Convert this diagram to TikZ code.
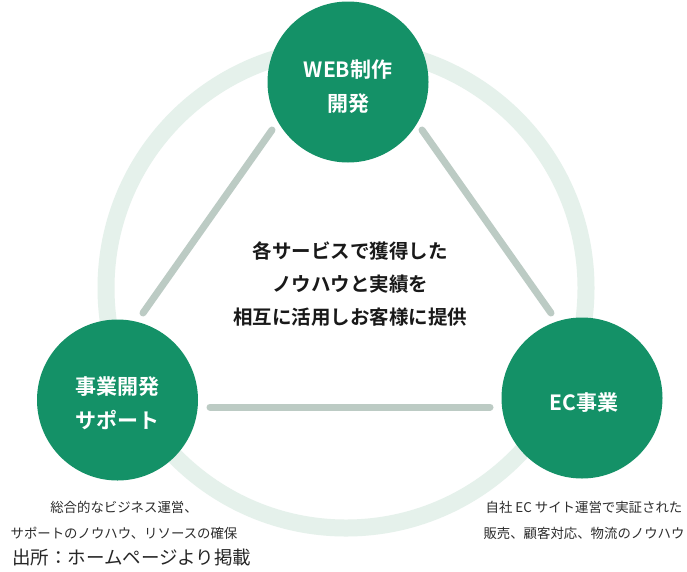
\documentclass[tikz,border=0pt]{standalone}
\usepackage{fontspec}
\setmainfont{Noto Sans CJK JP}[BoldFont={Noto Sans CJK JP Bold}]
\definecolor{hub}{RGB}{20,145,103}
\definecolor{linkc}{RGB}{188,203,196}
\definecolor{ringc}{RGB}{229,241,235}
\definecolor{capc}{RGB}{45,45,45}
\tikzset{
  hubnode/.style={circle, fill=hub, minimum size=161pt, inner sep=0pt},
  hubtext/.style={text=white, font=\fontsize{21}{34}\selectfont\bfseries, align=center, inner sep=0pt},
  linkline/.style={draw=linkc, line width=7pt, line cap=round},
  captext/.style={text=capc, font=\fontsize{13.4}{26}\selectfont, align=center, inner sep=0pt},
  midtext/.style={text=black!90, font=\fontsize{19.5}{33}\selectfont\bfseries, align=center, inner sep=0pt}
}
\begin{document}
\begin{tikzpicture}[x=1pt,y=-1pt]
\useasboundingbox[fill=white] (0,0) rectangle (687,571);
% big ring
\draw[ringc, line width=17pt] (346,288) circle[radius=240];
% connector end points
\coordinate (l1) at (272,130);
\coordinate (l2) at (143,313);
\coordinate (r1) at (422,130);
\coordinate (r2) at (551,313);
\coordinate (h1) at (210,407);
\coordinate (h2) at (490,407);
\draw[linkline] (l1) -- (l2);
\draw[linkline] (r1) -- (r2);
\draw[linkline] (h1) -- (h2);
% hubs
\node[hubnode] (web) at (348,82) {};
\node[hubnode] (biz) at (117.5,400) {};
\node[hubnode] (ec) at (582,398) {};
\node[hubtext] (webt) at (348,87) {WEB制作\\開発};
\node[hubtext] (bizt) at (117.5,403) {事業開発\\サポート};
\node[hubtext] (ect) at (584,403) {EC事業};
% centre text
\node[midtext] (mid) at (350,284) {各サービスで獲得した\\ノウハウと実績を\\相互に活用しお客様に提供};
% captions
\node[captext] (bizcap) at (124,520) {総合的なビジネス運営、\\サポートのノウハウ、リソースの確保};
\node[captext] (eccap) at (584,520) {自社 EC サイト運営で実証された\\販売、顧客対応、物流のノウハウ};
\node[anchor=west, inner sep=0pt, text=black!85, font=\fontsize{18.5}{20}\selectfont] (src) at (12,557) {出所：ホームページより掲載};
\end{tikzpicture}
\end{document}
